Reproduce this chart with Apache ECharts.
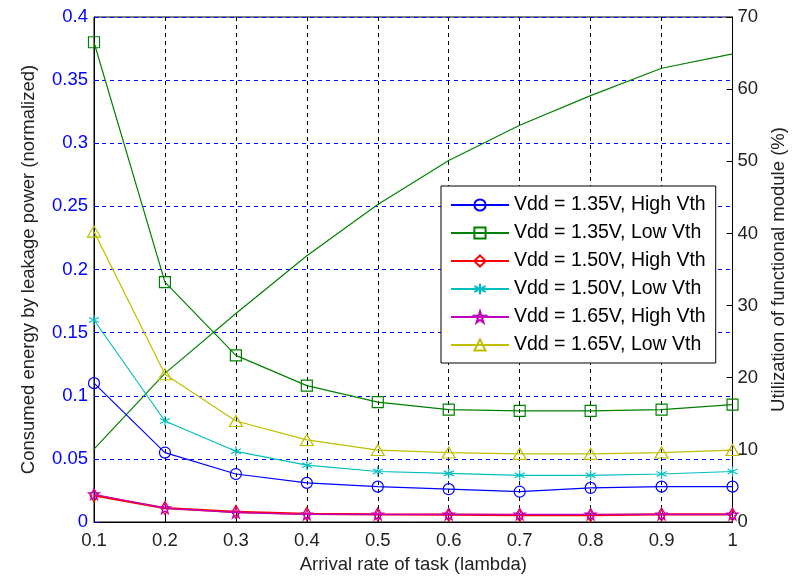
<!DOCTYPE html>
<html>
<head>
<meta charset="utf-8">
<script src="https://cdn.jsdelivr.net/npm/echarts@6/dist/echarts.min.js"></script>
<style>
  html, body { margin: 0; padding: 0; background: #fff; }
  #main { width: 796px; height: 579px; }
</style>
</head>
<body>
<div id="main"></div>
<script>
var myChart = echarts.init(document.getElementById('main'));

// arrival rate of task (lambda)
var lambda = [0.1, 0.2, 0.3, 0.4, 0.5, 0.6, 0.7, 0.8, 0.9, 1.0];

// consumed energy by leakage power (normalized)
var e135High = [0.110, 0.055, 0.038, 0.031, 0.028, 0.026, 0.024, 0.027, 0.028, 0.028];
var e135Low  = [0.380, 0.190, 0.132, 0.108, 0.095, 0.089, 0.088, 0.088, 0.089, 0.093];
var e150High = [0.021, 0.011, 0.008, 0.0065, 0.006, 0.0058, 0.0055, 0.0055, 0.006, 0.006];
var e150Low  = [0.160, 0.080, 0.056, 0.045, 0.040, 0.0385, 0.037, 0.037, 0.038, 0.040];
var e165High = [0.022, 0.011, 0.0075, 0.006, 0.006, 0.006, 0.006, 0.006, 0.006, 0.006];
var e165Low  = [0.230, 0.117, 0.080, 0.065, 0.057, 0.055, 0.054, 0.054, 0.055, 0.057];

// utilization of functional module (%)
var util = [10.1, 20.6, 28.9, 36.9, 44.0, 50.1, 55.0, 59.1, 62.9, 64.9];

var names = [
    'Vdd = 1.35V, High Vth',
    'Vdd = 1.35V, Low Vth',
    'Vdd = 1.50V, High Vth',
    'Vdd = 1.50V, Low Vth',
    'Vdd = 1.65V, High Vth',
    'Vdd = 1.65V, Low Vth'
];

function pairs(ys) {
    return lambda.map(function (x, i) { return [x, ys[i]]; });
}

var FONT = 'Liberation Sans';
var asterisk = 'path://M5,0L5,10M0.7,2.5L9.3,7.5M0.7,7.5L9.3,2.5';
var star = 'path://M10,0L12.245,6.91L19.51,6.91L13.63,11.18L15.88,18.09L10,13.82L4.12,18.09L6.37,11.18L0.49,6.91L7.755,6.91Z';

function energySeries(name, ys, color, symbol, size, width) {
    return {
        name: name,
        type: 'line',
        data: pairs(ys),
        symbol: symbol,
        symbolSize: size,
        showAllSymbol: true,
        lineStyle: { color: color, width: width || 1.2 },
        itemStyle: { color: 'rgba(255,255,255,0)', borderColor: color, borderWidth: 1.2 },
        emphasis: { disabled: true }
    };
}

var option = {
    backgroundColor: '#fff',
    animation: false,
    grid: {
        left: 94,
        right: 62,
        top: 17,
        bottom: 55,
        show: true,
        borderColor: '#000',
        borderWidth: 1,
        backgroundColor: '#fff'
    },
    legend: {
        data: names,
        orient: 'vertical',
        left: 441,
        top: 186,
        padding: [9, 10, 8, 9],
        itemWidth: 58,
        itemHeight: 14,
        itemGap: 8,
        backgroundColor: '#fff',
        borderColor: '#000',
        borderWidth: 1,
        borderRadius: 0,
        selectedMode: false,
        textStyle: { fontFamily: FONT, fontSize: 19.5, color: '#000', lineHeight: 19 }
    },
    xAxis: {
        type: 'value',
        min: 0.1,
        max: 1,
        interval: 0.1,
        name: 'Arrival rate of task (lambda)',
        nameLocation: 'middle',
        nameGap: 33,
        nameTextStyle: { fontFamily: FONT, fontSize: 18.5, color: '#222' },
        axisLine: { show: true, lineStyle: { color: '#000' } },
        axisTick: { show: true, inside: true, length: 5, lineStyle: { color: '#000' } },
        axisLabel: {
            fontFamily: FONT, fontSize: 18.5, color: '#222', margin: 9,
            formatter: function (v) { return String(+v.toFixed(1)); }
        },
        splitLine: { show: true, lineStyle: { color: '#000', type: [4, 4], width: 1 } }
    },
    yAxis: [
        {
            type: 'value',
            min: 0,
            max: 0.4,
            interval: 0.05,
            name: 'Consumed energy by leakage power (normalized)',
            nameLocation: 'middle',
            nameRotate: 90,
            nameGap: 56,
            nameTextStyle: { fontFamily: FONT, fontSize: 18.5, color: '#222' },
            axisLine: { show: true, lineStyle: { color: '#000' } },
            axisTick: { show: true, inside: true, length: 5, lineStyle: { color: '#0000ff' } },
            axisLabel: {
                fontFamily: FONT, fontSize: 18.5, color: '#0000ff', margin: 6,
                formatter: function (v) { return String(+v.toFixed(2)); }
            },
            splitLine: { show: true, lineStyle: { color: '#0000ff', type: [4, 4], width: 1 } }
        },
        {
            type: 'value',
            min: 0,
            max: 70,
            interval: 10,
            position: 'right',
            name: 'Utilization of functional module (%)',
            nameLocation: 'middle',
            nameRotate: 90,
            nameGap: 34,
            nameTextStyle: { fontFamily: FONT, fontSize: 18.5, color: '#222' },
            axisLine: { show: true, lineStyle: { color: '#000' } },
            axisTick: { show: true, inside: true, length: 6, lineStyle: { color: '#000' } },
            axisLabel: { fontFamily: FONT, fontSize: 18.5, color: '#222', margin: 5 },
            splitLine: { show: false }
        }
    ],
    series: [
        {
            name: 'Utilization',
            type: 'line',
            yAxisIndex: 1,
            data: pairs(util),
            symbol: 'none',
            lineStyle: { color: '#008000', width: 1.2 },
            itemStyle: { color: '#008000' },
            emphasis: { disabled: true }
        },
        energySeries(names[0], e135High, '#0000ff', 'circle', 11),
        energySeries(names[1], e135Low, '#008000', 'rect', 11),
        energySeries(names[2], e150High, '#ff0000', 'diamond', [8, 13], 2.2),
        energySeries(names[3], e150Low, '#00bfbf', asterisk, 10),
        energySeries(names[4], e165High, '#bf00bf', star, 11),
        energySeries(names[5], e165Low, '#bfbf00', 'triangle', [13, 11])
    ]
};
myChart.setOption(option);
</script>
</body>
</html>
